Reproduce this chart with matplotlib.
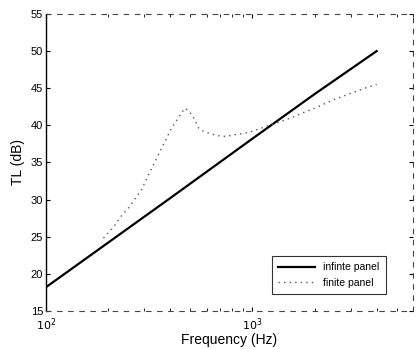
import matplotlib
matplotlib.use("Agg")
import matplotlib.pyplot as plt
import numpy as np

plt.rcParams['font.family'] = ['Liberation Sans', 'DejaVu Sans']

# Data
inf_freq = [100, 200, 400, 1000, 2000, 4000]
inf_tl = [18.2, 24.2, 30.2, 38.2, 44.2, 50.0]

fin_freq = [190, 200, 215, 230, 250, 290, 300, 320, 340, 360, 380, 400, 410,
            470, 490, 520, 550, 580, 620, 680, 750, 800, 900, 1000, 1100, 1200,
            1400, 1600, 1800, 2000, 2500, 3000, 3500, 4000]
fin_tl = [24.8, 25.5, 26.5, 27.7, 28.8, 31.3, 32.2, 33.8, 35.3, 36.7, 38.0, 39.3, 39.8,
          42.3, 42.0, 41.0, 39.6, 39.2, 38.9, 38.6, 38.5, 38.7, 38.9, 39.2, 39.6, 40.0,
          40.6, 41.2, 41.8, 42.3, 43.5, 44.3, 45.0, 45.5]

yticks = [15, 20, 25, 30, 35, 40, 45, 50, 55]

fig = plt.figure(figsize=(4.18, 3.49), dpi=100)
ax = fig.add_axes([0.110, 0.109, 0.878, 0.851])

ax.semilogx(inf_freq, inf_tl, color='black', lw=1.6, label='infinte panel')
ax.semilogx(fin_freq, fin_tl, color='#555555', lw=1.0, ls=(0, (1, 3)), label='finite panel')

ax.set_xlim(100, 6000)
ax.set_ylim(15, 55)
ax.set_yticks(yticks)
ax.set_xticks([100, 1000])
ax.set_xticklabels(['$10^2$', '$10^3$'])
ax.tick_params(direction='in', labelsize=8, length=3, which='both', top=True, right=True)
ax.tick_params(axis='x', pad=4)
ax.tick_params(axis='y', pad=2)
ax.tick_params(which='minor', length=2)

for s in ['top', 'right', 'bottom']:
    ax.spines[s].set_linestyle((0, (4, 6)))
    ax.spines[s].set_color('#444444')
    ax.spines[s].set_linewidth(0.8)
ax.spines['left'].set_linewidth(1.0)

ax.set_xlabel('Frequency (Hz)', fontsize=10, labelpad=0)
ax.set_ylabel('TL (dB)', fontsize=10)

leg = ax.legend(loc='lower right', bbox_to_anchor=(0.94, 0.04), fontsize=7.5,
                frameon=True, fancybox=False, edgecolor='black', handlelength=3.5,
                borderpad=0.6)
leg.get_frame().set_linewidth(0.8)

fig.savefig('out.png', dpi=100)
